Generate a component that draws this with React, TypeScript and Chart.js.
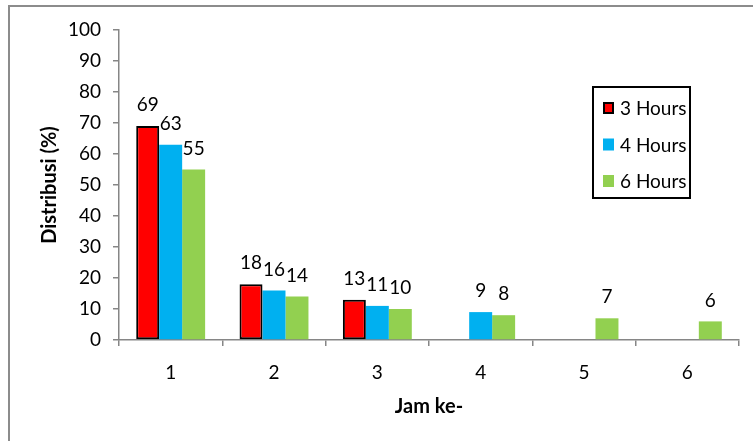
import React, { useEffect, useRef } from "react";
import { Chart, registerables } from "chart.js";

Chart.register(...registerables);

const categories = ["1", "2", "3", "4", "5", "6"];
const seriesLabels = ["3 Hours", "4 Hours", "6 Hours"];
const hours3: (number | null)[] = [69, 18, 13, null, null, null];
const hours4: (number | null)[] = [63, 16, 11, 9, null, null];
const hours6: (number | null)[] = [55, 14, 10, 8, 7, 6];
const seriesColors = ["#FF0000", "#00B0F0", "#92D050"];
const seriesBorders = ["#000000", "#00B0F0", "#92D050"];
const seriesBorderWidths = [2, 0, 0];
const yMin = 0;
const yMax = 100;
const yStep = 10;
const xTitle = "Jam ke-";
const yTitle = "Distribusi (%)";

const FONT = "Lato, 'Open Sans', sans-serif";
const AXIS_COLOR = "#868686";

const framePlugin = {
  id: "frame",
  beforeDraw(chart: any) {
    const { ctx, width, height } = chart;
    ctx.save();
    ctx.fillStyle = "#ffffff";
    ctx.fillRect(0, 0, width, height);
    ctx.strokeStyle = "#8c8c8c";
    ctx.lineWidth = 2;
    ctx.strokeRect(9, 6, width + 40, height + 40);
    ctx.restore();
  },
};

const dataLabelPlugin = {
  id: "dataLabels",
  afterDatasetsDraw(chart: any) {
    const { ctx } = chart;
    ctx.save();
    ctx.font = `19px ${FONT}`;
    ctx.fillStyle = "#000000";
    ctx.textAlign = "center";
    ctx.textBaseline = "middle";
    chart.data.datasets.forEach((ds: any, i: number) => {
      const meta = chart.getDatasetMeta(i);
      meta.data.forEach((bar: any, j: number) => {
        const v = ds.data[j];
        if (v === null || v === undefined) return;
        ctx.fillText(String(v), bar.x, bar.y - 21);
      });
    });
    ctx.restore();
  },
};

const legendPlugin = {
  id: "boxLegend",
  afterDraw(chart: any) {
    const { ctx } = chart;
    const left = 593;
    const top = 87;
    const w = 97;
    const h = 111;
    ctx.save();
    ctx.strokeStyle = "#000000";
    ctx.lineWidth = 2;
    ctx.strokeRect(left, top, w, h);
    ctx.font = `19px ${FONT}`;
    ctx.textAlign = "left";
    ctx.textBaseline = "middle";
    chart.data.datasets.forEach((ds: any, i: number) => {
      const cy = top + 21 + i * 36.5;
      ctx.fillStyle = ds.backgroundColor;
      ctx.fillRect(603, cy - 6, 11, 12);
      if (ds.borderWidth > 0) {
        ctx.strokeStyle = ds.borderColor;
        ctx.lineWidth = 2;
        ctx.strokeRect(604, cy - 5, 9, 10);
      }
      ctx.fillStyle = "#000000";
      ctx.fillText(ds.label, 620, cy + 1);
    });
    ctx.restore();
  },
};

export default function App() {
  const canvasRef = useRef<HTMLCanvasElement | null>(null);

  useEffect(() => {
    if (!canvasRef.current) return;
    const seriesData = [hours3, hours4, hours6];
    const chart = new Chart(canvasRef.current, {
      type: "bar",
      data: {
        labels: categories,
        datasets: seriesData.map((d, i) => ({
          label: seriesLabels[i],
          data: d,
          backgroundColor: seriesColors[i],
          borderColor: seriesBorders[i],
          borderWidth: seriesBorderWidths[i],
          borderSkipped: false,
          categoryPercentage: 0.667,
          barPercentage: 1.0,
        })),
      },
      options: {
        responsive: false,
        animation: false,
        maintainAspectRatio: false,
        layout: { padding: { left: 0, top: 30, right: 14, bottom: 0 } },
        plugins: {
          legend: { display: false },
          tooltip: { enabled: false },
        },
        scales: {
          x: {
            offset: true,
            grid: {
              offset: true,
              drawOnChartArea: false,
              drawTicks: true,
              tickLength: 6,
              color: AXIS_COLOR,
              lineWidth: 1.5,
            },
            border: { display: true, color: AXIS_COLOR, width: 1.5 },
            ticks: {
              color: "#000000",
              font: { family: FONT, size: 19 },
              padding: 15.6,
              maxRotation: 0,
            },
            title: {
              display: true,
              text: xTitle,
              color: "#000000",
              font: { family: FONT, size: 20, weight: "bold" },
              padding: { top: 0, bottom: 22 },
            },
            afterFit(scale: any) {
              scale.height = 101;
            },
          },
          y: {
            min: yMin,
            max: yMax,
            ticks: {
              stepSize: yStep,
              color: "#000000",
              font: { family: FONT, size: 19 },
              padding: 12,
            },
            grid: {
              drawOnChartArea: false,
              drawTicks: true,
              tickLength: 6,
              color: AXIS_COLOR,
              lineWidth: 1.5,
            },
            border: { display: true, color: AXIS_COLOR, width: 1.5 },
            title: {
              display: true,
              text: yTitle,
              color: "#000000",
              font: { family: FONT, size: 20, weight: "bold" },
              padding: { top: 38, bottom: 0 },
            },
            afterFit(scale: any) {
              scale.width = 119;
            },
          },
        },
      },
      plugins: [framePlugin, dataLabelPlugin, legendPlugin],
    });
    return () => chart.destroy();
  }, []);

  return (
    <div style={{ position: "fixed", left: 0, top: 0, width: 753, height: 441 }}>
      <canvas ref={canvasRef} width={753} height={441} style={{ width: 753, height: 441 }} />
    </div>
  );
}
